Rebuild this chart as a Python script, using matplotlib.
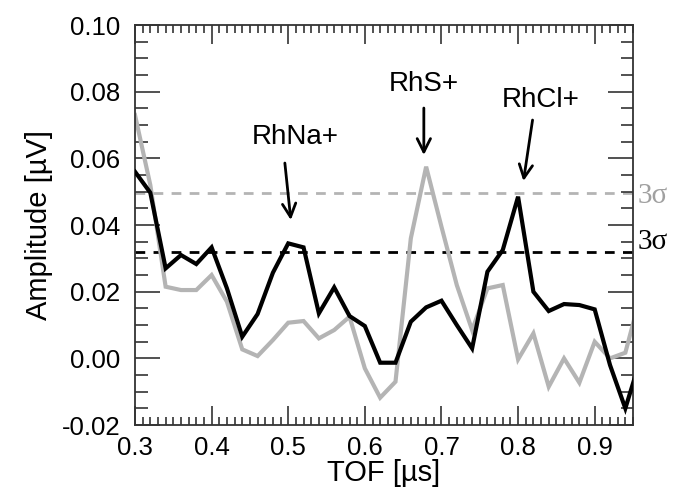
import matplotlib
matplotlib.use("Agg")
import matplotlib.pyplot as plt
from matplotlib.ticker import MultipleLocator
import numpy as np

plt.rcParams['font.family'] = ['Liberation Sans', 'DejaVu Sans']

tof = [0.30, 0.32, 0.34, 0.36, 0.38, 0.40, 0.42, 0.44, 0.46, 0.48, 0.50, 0.52,
       0.54, 0.56, 0.58, 0.60, 0.62, 0.64, 0.66, 0.68, 0.70, 0.72, 0.74, 0.76,
       0.78, 0.80, 0.82, 0.84, 0.86, 0.88, 0.90, 0.92, 0.94, 0.96]
black_amp = [0.056, 0.0497, 0.027, 0.031, 0.0283, 0.0333, 0.021, 0.0065, 0.0133,
             0.0257, 0.0345, 0.0333, 0.0135, 0.0213, 0.0127, 0.0097, -0.0013,
             -0.0013, 0.011, 0.0153, 0.0173, 0.010, 0.003, 0.026, 0.0325, 0.0485,
             0.020, 0.0142, 0.0163, 0.016, 0.0147, -0.002, -0.015, 0.0]
gray_amp = [0.073, 0.052, 0.0215, 0.0205, 0.0205, 0.025, 0.017, 0.0027, 0.0007,
            0.0055, 0.0107, 0.0112, 0.006, 0.0085, 0.0125, -0.003, -0.0118,
            -0.007, 0.036, 0.0575, 0.0395, 0.022, 0.0085, 0.021, 0.022, -0.0003,
            0.0075, -0.0085, 0.0, -0.0073, 0.005, 0.0, 0.0017, 0.019]
gray_3sigma = 0.0495
black_3sigma = 0.032

peak_labels = ["RhNa+", "RhS+", "RhCl+"]
label_pos = [(0.5095, 0.0664), (0.677, 0.0823), (0.830, 0.0775)]
arrow_start = [(0.4956, 0.0586), (0.677, 0.0751), (0.8189, 0.0715)]
arrow_end = [(0.5034, 0.0415), (0.677, 0.0610), (0.807, 0.0532)]

gray_col = '#b4b4b4'

fig = plt.figure(figsize=(6.87, 4.88), dpi=100)
ax = fig.add_axes([0.1965, 0.129, 0.7249, 0.8197])

ax.axhline(gray_3sigma, color=gray_col, lw=2, ls=(0, (3.5, 3)), zorder=1)
ax.axhline(black_3sigma, color='black', lw=2, ls=(0, (3.5, 3)), zorder=1)
ax.plot(tof, gray_amp, color=gray_col, lw=3, zorder=2, solid_joinstyle='miter')
ax.plot(tof, black_amp, color='black', lw=3, zorder=3, solid_joinstyle='miter')

ax.set_xlim(0.30, 0.95)
ax.set_ylim(-0.02, 0.10)
ax.xaxis.set_minor_locator(MultipleLocator(0.01))
ax.yaxis.set_minor_locator(MultipleLocator(0.005))
ax.set_yticks(np.arange(-0.02, 0.101, 0.02))
ax.set_yticklabels(['-0.02', '0.00', '0.02', '0.04', '0.06', '0.08', '0.10'])
ax.set_xticks(np.arange(0.3, 0.951, 0.1))
ax.set_xticklabels(['0.3', '0.4', '0.5', '0.6', '0.7', '0.8', '0.9'])

ax.tick_params(axis='both', which='both', direction='in', top=True, right=True,
               width=1.2, colors='#333333', labelcolor='black', labelsize=18.5)
ax.tick_params(axis='x', which='major', length=14, pad=8)
ax.tick_params(axis='x', which='minor', length=6)
ax.tick_params(axis='y', which='major', length=18, pad=10.5)
ax.tick_params(axis='y', which='minor', length=9)
for s in ax.spines.values():
    s.set_linewidth(1.3)
    s.set_color('#333333')

ax.set_xlabel('TOF [µs]', fontsize=21, labelpad=-1)
ax.set_ylabel('Amplitude [µV]', fontsize=21, labelpad=6)

for lab, pos, st, en in zip(peak_labels, label_pos, arrow_start, arrow_end):
    ax.text(pos[0], pos[1], lab, ha='center', va='center', fontsize=20)
    ax.annotate('', xy=en, xytext=st,
                arrowprops=dict(arrowstyle='->', lw=2, color='black',
                                mutation_scale=24, shrinkA=0, shrinkB=0))

trans = ax.get_yaxis_transform()
ax.text(1.01, 0.0486, '3σ', transform=trans, color='#a0a0a0', fontsize=21,
        family=['Liberation Serif', 'DejaVu Serif'], va='center', ha='left')
ax.text(1.01, 0.0348, '3σ', transform=trans, color='black', fontsize=21,
        family=['Liberation Serif', 'DejaVu Serif'], va='center', ha='left')

fig.savefig('out.png', dpi=100)
